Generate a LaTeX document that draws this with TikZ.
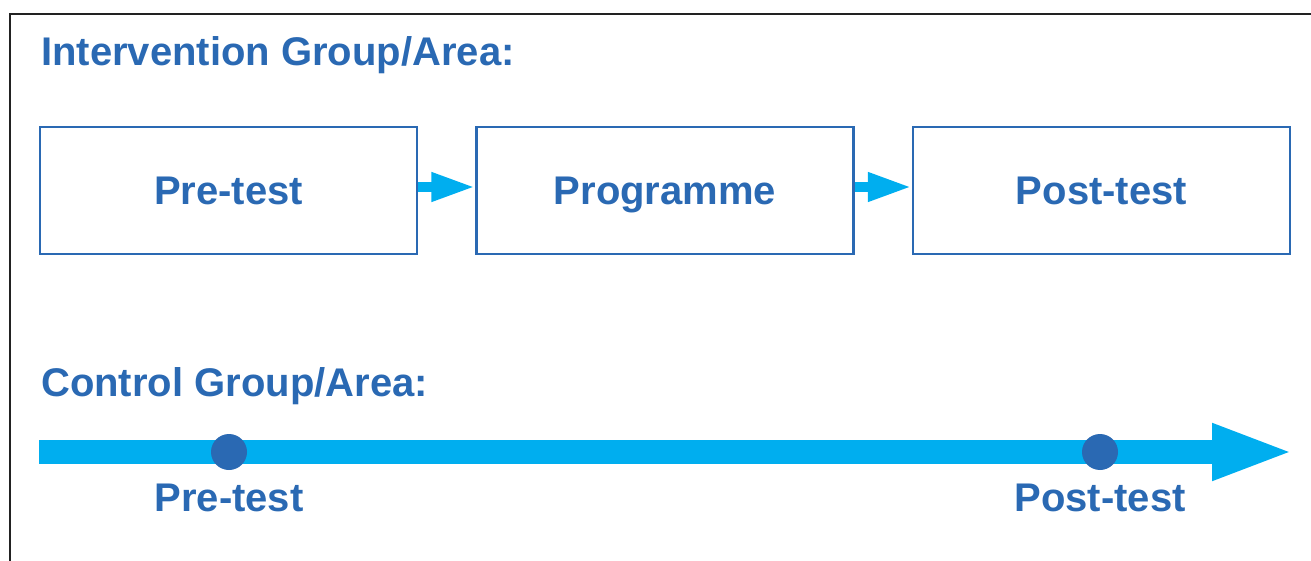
\documentclass[tikz,border=0pt]{standalone}
\usepackage{fontspec}
\setmainfont{Liberation Sans}
\usepackage{xcolor}
\usetikzlibrary{positioning,arrows.meta}

\definecolor{textblue}{HTML}{2A69B3}
\definecolor{arrowcyan}{HTML}{00AEEF}
\definecolor{framegray}{HTML}{222222}

\begin{document}
\begin{tikzpicture}[x=1pt,y=-1pt,
    every node/.style={font=\fontsize{40}{48}\selectfont\bfseries,text=textblue,inner sep=0pt},
    stage/.style={draw=textblue,line width=2.5pt,minimum width=377pt,minimum height=127pt,
      text height=29pt,text depth=0pt},
    dot/.style={circle,fill=textblue,minimum size=36pt}]
    \clip (0,0) rectangle (1311,561);
    % frame, open to the right and at the bottom
    \draw[framegray,line width=2.5pt] (1320,14) -- (10,14) -- (10,570);
    % intervention row
    \node[anchor=base west] (igroup) at (41,66) {Intervention Group/Area:};
    \node[stage] (pre) at (228.5,190.5) {Pre-test};
    \node[stage,right=57pt of pre] (prog) {Programme};
    \node[stage,right=57pt of prog] (post) {Post-test};
    \draw[arrowcyan,line width=10pt,-{Triangle[length=44pt,width=27pt]}]
        ([yshift=3.5pt]pre.east) -- ([yshift=3.5pt]prog.west);
    \draw[arrowcyan,line width=10pt,-{Triangle[length=44pt,width=27pt]}]
        ([yshift=3.5pt]prog.east) -- ([yshift=3.5pt]post.west);
    % control row
    \node[anchor=base west] (cgroup) at (41,396) {Control Group/Area:};
    \coordinate (tstart) at (39,452);
    \coordinate (tend) at (1295,452);
    \draw[arrowcyan,line width=24pt,-{Triangle[length=83pt,width=51pt]}] (tstart) -- (tend);
    \node[dot] (predot) at (229,452) {};
    \node[dot] (postdot) at (1100,452) {};
    \node[anchor=base] (prelabel) at (229,511) {Pre-test};
    \node[anchor=base] (postlabel) at (1100,511) {Post-test};
\end{tikzpicture}
\end{document}
